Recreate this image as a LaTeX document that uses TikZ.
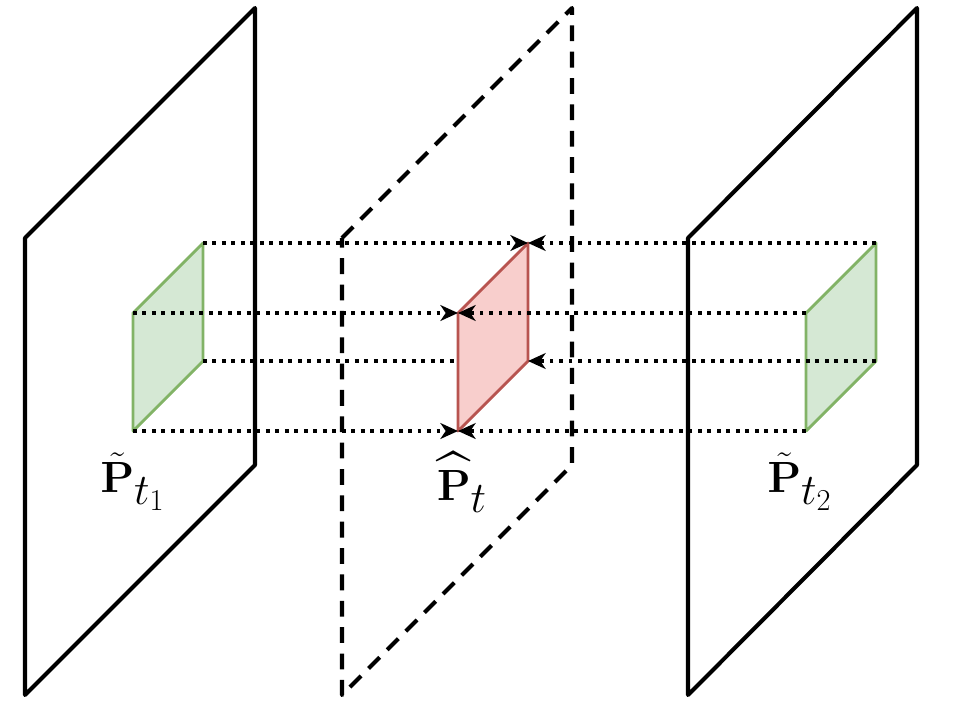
\documentclass[tikz,border=0pt]{standalone}
\usepackage{amsmath}
\usepackage{amssymb}
\usetikzlibrary{arrows.meta,positioning,calc}

\definecolor{patchgreen}{HTML}{82B366}
\definecolor{patchgreenfill}{HTML}{D5E8D4}
\definecolor{patchred}{HTML}{B85450}
\definecolor{patchredfill}{HTML}{F8CECC}

\begin{document}
\begin{tikzpicture}[
        x=0.02cm, y=-0.02cm,
        plane/.style={draw, line width=2.3pt, line join=round},
        dashedplane/.style={plane, dash pattern=on 9pt off 6pt},
        patch/.style={draw=patchgreen, fill=patchgreenfill, line width=1.6pt, line join=round},
        hatpatch/.style={draw=patchred, fill=patchredfill, line width=1.6pt, line join=round},
        flowplain/.style={draw, line width=1.8pt, dash pattern=on 2.2pt off 3.2pt},
        flow/.style={flowplain, -{Stealth[length=10pt,width=9pt,inset=3pt]}},
        label/.style={font=\fontsize{35}{42}\selectfont, anchor=north, inner sep=0pt}
    ]
    \useasboundingbox (0,0) rectangle (955,714);

    % Planes
    \path [plane] (25,238) -- (255,8) -- (255,465) -- (25,695) -- cycle;
    \path [dashedplane] (342,238) -- (572,8) -- (572,465) -- (342,695) -- cycle;
    \path [plane] (688,238) -- (917,8) -- (917,465) -- (688,695) -- cycle;

    % Patch corners
    \coordinate (l1) at (133,313); \coordinate (l2) at (203,243);
    \coordinate (l3) at (203,361); \coordinate (l4) at (133,431);
    \coordinate (m1) at (458,313); \coordinate (m2) at (528,243);
    \coordinate (m3) at (528,361); \coordinate (m4) at (458,431);
    \coordinate (r1) at (806,313); \coordinate (r2) at (876,243);
    \coordinate (r3) at (876,361); \coordinate (r4) at (806,431);

    % Patches
    \path [patch] (l1) -- (l2) -- (l3) -- (l4) -- cycle;
    \path [patch] (r1) -- (r2) -- (r3) -- (r4) -- cycle;
    \path [flowplain] (l3) -- (m3 -| m1);
    \path [hatpatch] (m1) -- (m2) -- (m3) -- (m4) -- cycle;

    % Dotted flows
    \path [flow] (l2) -- (m2);
    \path [flow] (r2) -- (m2);
    \path [flow] (l1) -- (m1);
    \path [flow] (r1) -- (m1);
    \path [flow] (r3) -- (m3);
    \path [flow] (l4) -- (m4);
    \path [flow] (r4) -- (m4);

    % Labels
    \node [label] (ptone) at (133,452) {$\tilde{\mathbf{P}}_{t_1}$};
    \node [label] (pthat) at (462,452) {$\widehat{\mathbf{P}}_{t}$};
    \node [label] (pttwo) at (800,452) {$\tilde{\mathbf{P}}_{t_2}$};
\end{tikzpicture}
\end{document}
